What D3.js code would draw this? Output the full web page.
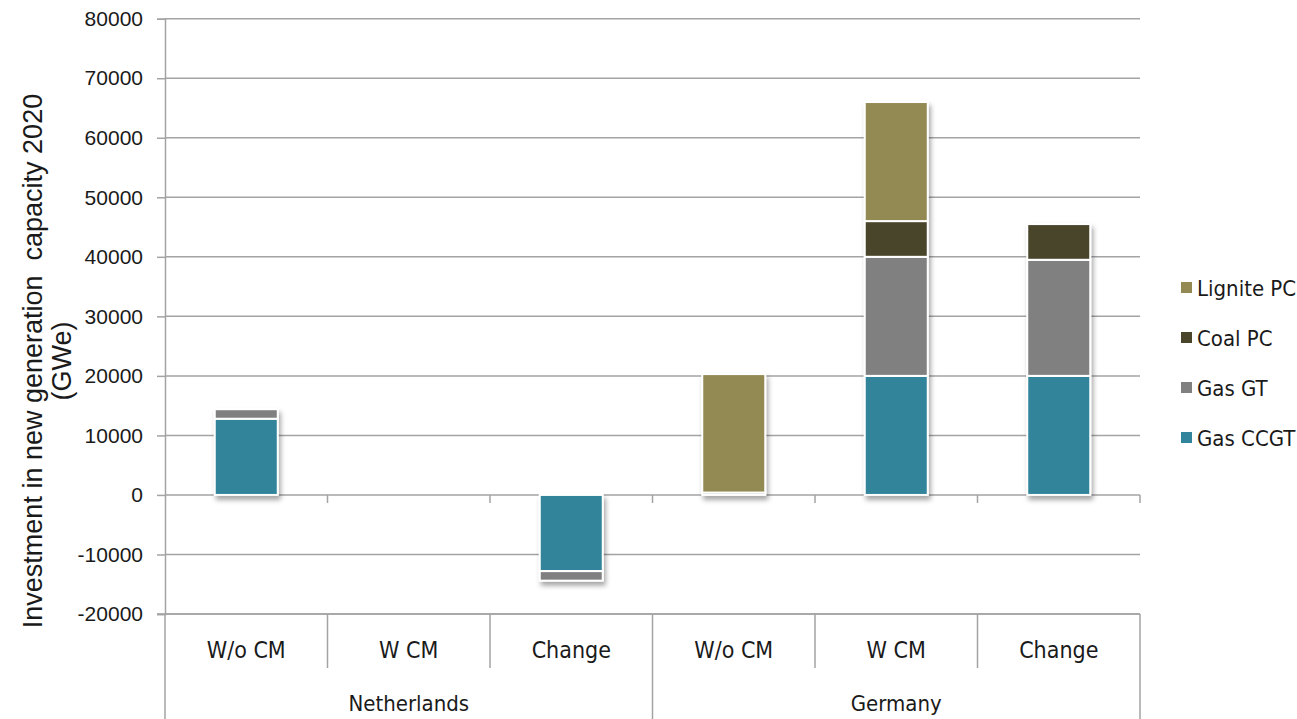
<!DOCTYPE html>
<html>
<head>
<meta charset="utf-8">
<script src="https://cdn.jsdelivr.net/npm/d3@7"></script>
<style>
  html, body { margin: 0; padding: 0; background: #fff; }
  svg { display: block; }
  .tick-label { font-family: "Liberation Sans", Arial, sans-serif; font-size: 21px; fill: #1a1a1a; }
  .cond { font-family: "Liberation Sans Narrow", "DejaVu Sans Condensed", sans-serif; fill: #1a1a1a; }
</style>
</head>
<body>
<svg id="chart" width="1297" height="719"></svg>
<script>
// Scenario groups and the cases shown within each
const groups = ["Netherlands", "Germany"];
const cases = ["W/o CM", "W CM", "Change"];

// Investment in new generation capacity 2020 (GWe), one value per group/case
const gasCCGT   = [12800, 0, -12800, 0, 20000, 20000];
const gasGT     = [1600, 0, -1600, 400, 20000, 19500];
const coalPC    = [0, 0, 0, 0, 6000, 6000];
const lignitePC = [0, 0, 0, 19900, 20000, 0];

const seriesNames = ["Gas CCGT", "Gas GT", "Coal PC", "Lignite PC"];
const seriesColors = ["#31849b", "#808080", "#4a452a", "#938953"];
const yTicks = [-20000, -10000, 0, 10000, 20000, 30000, 40000, 50000, 60000, 70000, 80000];

// Row table for the stack layout
const keys = groups.flatMap(g => cases.map(c => g + "|" + c));
const rows = keys.map((k, i) => ({
  key: k,
  "Gas CCGT": gasCCGT[i],
  "Gas GT": gasGT[i],
  "Coal PC": coalPC[i],
  "Lignite PC": lignitePC[i]
}));

const svg = d3.select("#chart");
const plotLeft = 165, plotRight = 1140, plotTop = 18.7, plotBottom = 614;

const x = d3.scaleBand().domain(keys).range([plotLeft, plotRight]).paddingInner(0).paddingOuter(0);
const y = d3.scaleLinear().domain([-20000, 80000]).range([plotBottom, plotTop]);
const color = d3.scaleOrdinal().domain(seriesNames).range(seriesColors);

// Soft shadow under each column
const defs = svg.append("defs");
const f = defs.append("filter").attr("id", "shadow")
  .attr("x", "-20%").attr("y", "-20%").attr("width", "150%").attr("height", "150%");
f.append("feDropShadow").attr("dx", 2).attr("dy", 4).attr("stdDeviation", 2.5)
  .attr("flood-color", "#000").attr("flood-opacity", 0.35);

// Horizontal gridlines
svg.append("g").selectAll("line").data(yTicks).join("line")
  .attr("x1", plotLeft).attr("x2", plotRight)
  .attr("y1", d => y(d)).attr("y2", d => y(d))
  .attr("stroke", "#a3a3a3").attr("stroke-width", 1.5);

// Value axis (plain hyphen for negatives)
const yAxis = d3.axisLeft(y).tickValues(yTicks).tickSize(8).tickPadding(14).tickFormat(d => String(d));
const gy = svg.append("g").attr("transform", `translate(${plotLeft},0)`).call(yAxis);
gy.select(".domain").attr("stroke", "#a3a3a3").attr("stroke-width", 1.5);
gy.selectAll(".tick line").attr("stroke", "#a3a3a3").attr("stroke-width", 1.5);
gy.selectAll(".tick text").attr("class", "tick-label").attr("fill", "#1a1a1a");

// Zero line ticks at case boundaries
const boundaries = keys.map(k => x(k)).concat([plotRight]);
svg.append("g").selectAll("line").data(boundaries.slice(1)).join("line")
  .attr("x1", d => d).attr("x2", d => d)
  .attr("y1", y(0)).attr("y2", y(0) + 8)
  .attr("stroke", "#a3a3a3").attr("stroke-width", 1.5);

// Stacked columns
const stack = d3.stack().keys(seriesNames).offset(d3.stackOffsetDiverging);
const layers = stack(rows);
const barW = 63;

const barG = svg.append("g");
keys.forEach(k => {
  const segs = layers.map(L => ({ name: L.key, s: L.find(d => d.data.key === k) }))
    .filter(d => d.s[1] !== d.s[0]);
  if (!segs.length) return;
  const col = barG.append("g").attr("filter", "url(#shadow)");
  col.selectAll("rect").data(segs).join("rect")
    .attr("x", x(k) + (x.bandwidth() - barW) / 2)
    .attr("width", barW)
    .attr("y", d => y(Math.max(d.s[0], d.s[1])))
    .attr("height", d => Math.abs(y(d.s[0]) - y(d.s[1])))
    .attr("fill", d => color(d.name))
    .attr("stroke", "#fff").attr("stroke-width", 2);
});

// Category axis below the plot
const catG = svg.append("g");
catG.append("line").attr("x1", plotLeft - 8).attr("x2", plotRight)
  .attr("y1", plotBottom).attr("y2", plotBottom)
  .attr("stroke", "#a3a3a3").attr("stroke-width", 1.5);
boundaries.forEach((bx, i) => {
  const isGroupEdge = i % cases.length === 0;
  catG.append("line").attr("x1", bx).attr("x2", bx)
    .attr("y1", plotBottom).attr("y2", isGroupEdge ? 719 : 668)
    .attr("stroke", "#a3a3a3").attr("stroke-width", 1.5);
});
catG.selectAll("text.case").data(keys).join("text")
  .attr("class", "cond case")
  .attr("x", k => x(k) + x.bandwidth() / 2)
  .attr("y", 658)
  .attr("text-anchor", "middle")
  .attr("font-size", 23)
  .text(k => k.split("|")[1]);
catG.selectAll("text.group").data(groups).join("text")
  .attr("class", "cond group")
  .attr("x", g => x(g + "|" + cases[1]) + x.bandwidth() / 2)
  .attr("y", 711)
  .attr("text-anchor", "middle")
  .attr("font-size", 22)
  .text(g => g);

// Value axis title
const title = svg.append("text")
  .attr("transform", `translate(0,361) rotate(-90)`)
  .attr("text-anchor", "middle")
  .attr("font-family", "'Liberation Sans', Arial, sans-serif")
  .attr("font-size", 27)
  .attr("fill", "#1a1a1a")
  .style("white-space", "pre");
title.append("tspan").attr("x", 0).attr("y", 42)
  .text("Investment in new generation  capacity 2020");
title.append("tspan").attr("x", 0).attr("y", 71).text("(GWe)");

// Legend, top to bottom in reverse stacking order
const legendItems = seriesNames.slice().reverse();
const lg = svg.append("g").selectAll("g").data(legendItems).join("g")
  .attr("transform", (d, i) => `translate(1181,${288 + i * 50})`);
lg.append("rect").attr("x", 0).attr("y", -6).attr("width", 11).attr("height", 11)
  .attr("fill", d => color(d));
lg.append("text").attr("class", "cond")
  .attr("x", 16).attr("y", 0).attr("dy", "0.35em")
  .attr("font-size", 22)
  .text(d => d);
</script>
</body>
</html>
